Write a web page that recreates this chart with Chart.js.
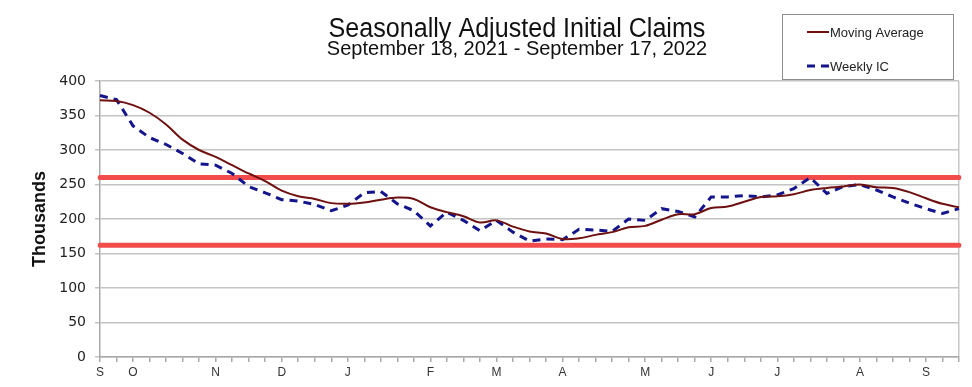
<!DOCTYPE html>
<html>
<head>
<meta charset="utf-8">
<script src="https://cdn.jsdelivr.net/npm/chart.js@4.4.1/dist/chart.umd.min.js"></script>
<style>
    html, body { margin: 0; padding: 0; background: #fff; }
    #wrap { position: relative; width: 972px; height: 387px; }
</style>
</head>
<body>
<div id="wrap"><canvas id="chartCanvas" width="972" height="387"></canvas></div>
<script>
var titleText = 'Seasonally Adjusted Initial Claims';
var subtitleText = 'September 18, 2021 - September 17, 2022';

// week ending dates (Saturdays)
var weekEnding = [
    '2021-09-18', '2021-09-25', '2021-10-02', '2021-10-09', '2021-10-16', '2021-10-23', '2021-10-30',
    '2021-11-06', '2021-11-13', '2021-11-20', '2021-11-27', '2021-12-04', '2021-12-11', '2021-12-18',
    '2021-12-25', '2022-01-01', '2022-01-08', '2022-01-15', '2022-01-22', '2022-01-29', '2022-02-05',
    '2022-02-12', '2022-02-19', '2022-02-26', '2022-03-05', '2022-03-12', '2022-03-19', '2022-03-26',
    '2022-04-02', '2022-04-09', '2022-04-16', '2022-04-23', '2022-04-30', '2022-05-07', '2022-05-14',
    '2022-05-21', '2022-05-28', '2022-06-04', '2022-06-11', '2022-06-18', '2022-06-25', '2022-07-02',
    '2022-07-09', '2022-07-16', '2022-07-23', '2022-07-30', '2022-08-06', '2022-08-13', '2022-08-20',
    '2022-08-27', '2022-09-03', '2022-09-10', '2022-09-17'
];
var monthLetters = ['J', 'F', 'M', 'A', 'M', 'J', 'J', 'A', 'S', 'O', 'N', 'D'];

// thousands
var movingAvg = [
    372, 371, 365, 354, 337, 315, 300, 290, 278, 266, 255, 241, 233, 229,
    223, 222, 224, 228, 231, 229, 217, 210, 204, 195, 198, 189, 182, 179,
    171, 172, 177, 181, 188, 190, 199, 207, 207, 216, 218, 225, 232, 233,
    236, 242, 245, 247, 250, 246, 245, 239, 230, 222, 217
];
var weeklyIC = [
    379, 373, 335, 318, 308, 295, 280, 278, 266, 247, 238, 228, 226, 221,
    212, 220, 238, 240, 222, 212, 190, 210, 198, 183, 198, 181, 168, 171,
    170, 185, 184, 182, 200, 198, 215, 211, 203, 232, 232, 234, 232, 235,
    244, 260, 237, 247, 250, 242, 232, 223, 215, 208, 215
];
var upperBand = 260;
var lowerBand = 162;
var yTicks = { min: 0, max: 400, step: 50 };

var upperLine = weekEnding.map(function () { return upperBand; });
var lowerLine = weekEnding.map(function () { return lowerBand; });

// centred text, squeezed sideways a little (no Arial Narrow installed)
function narrowText(c, text, x, y, size, squeeze) {
    c.save();
    c.font = size + 'px "Liberation Sans", Arial, sans-serif';
    c.translate(x, y);
    c.scale(squeeze, 1);
    c.textAlign = 'center';
    c.fillText(text, 0, 0);
    c.restore();
}

var headerPlugin = {
    id: 'header',
    afterDraw: function (chart) {
        var c = chart.ctx;
        c.save();
        c.fillStyle = '#111';
        c.textBaseline = 'alphabetic';
        narrowText(c, titleText, 517, 37, 27, 0.93);
        narrowText(c, subtitleText, 517, 55, 20, 1.0);

        // legend box
        c.strokeStyle = '#8c8c8c';
        c.lineWidth = 1;
        c.strokeRect(782.5, 14.5, 171, 65);
        var items = chart.data.datasets.slice(0, 2);
        var ys = [32, 66];
        c.textAlign = 'left';
        c.textBaseline = 'middle';
        c.font = '13px "Liberation Sans", Arial, sans-serif';
        items.forEach(function (ds, i) {
            c.beginPath();
            c.strokeStyle = ds.borderColor;
            c.lineWidth = ds.borderWidth;
            c.setLineDash(ds.borderDash || []);
            c.moveTo(807, ys[i]);
            c.lineTo(829, ys[i]);
            c.stroke();
            c.setLineDash([]);
            c.fillStyle = '#222';
            c.fillText(ds.label, 830, ys[i] + 1);
        });
        c.restore();
    }
};

var ctx = document.getElementById('chartCanvas').getContext('2d');
var myChart = new Chart(ctx, {
    type: 'line',
    data: {
        labels: weekEnding,
        datasets: [{
            label: 'Moving Average',
            data: movingAvg,
            borderColor: '#6e1010',
            borderWidth: 2,
            pointRadius: 0,
            tension: 0.35
        }, {
            label: 'Weekly IC',
            data: weeklyIC,
            borderColor: '#14148c',
            borderWidth: 3,
            borderDash: [8, 6],
            pointRadius: 0,
            tension: 0
        }, {
            label: 'Upper',
            data: upperLine,
            borderColor: '#f24b4b',
            borderWidth: 5,
            borderCapStyle: 'round',
            pointRadius: 0
        }, {
            label: 'Lower',
            data: lowerLine,
            borderColor: '#f24b4b',
            borderWidth: 5,
            borderCapStyle: 'round',
            pointRadius: 0
        }]
    },
    options: {
        responsive: false,
        animation: false,
        layout: {
            padding: { top: 81, right: 13, left: 0, bottom: 0 }
        },
        plugins: {
            legend: { display: false },
            tooltip: { enabled: false }
        },
        scales: {
            x: {
                ticks: {
                    autoSkip: false,
                    maxRotation: 0,
                    padding: 3,
                    color: '#333',
                    font: { family: '"Liberation Sans", Arial, sans-serif', size: 12 },
                    callback: function (value, index) {
                        var d = weekEnding[index];
                        var day = parseInt(d.slice(8, 10), 10);
                        return day <= 7 || index === 0 ? monthLetters[parseInt(d.slice(5, 7), 10) - 1] : '';
                    }
                },
                grid: {
                    drawOnChartArea: true,
                    tickLength: 5,
                    tickColor: '#aaa',
                    color: function (c) {
                        return c.index === weekEnding.length - 1 ? '#c8c8c8' : 'rgba(0,0,0,0)';
                    },
                    lineWidth: 1.5
                },
                border: { color: '#aaa', width: 1.5 },
                afterFit: function (scale) { scale.height = 30; }
            },
            y: {
                min: yTicks.min,
                max: yTicks.max,
                ticks: {
                    stepSize: yTicks.step,
                    padding: 9,
                    color: '#222',
                    font: { family: '"DejaVu Sans", sans-serif', size: 14 }
                },
                grid: {
                    color: '#c4c4c4',
                    lineWidth: 1.5,
                    tickLength: 5
                },
                border: { color: '#aaa', width: 1.5 },
                title: {
                    display: true,
                    text: 'Thousands',
                    color: '#111',
                    font: { family: '"Liberation Sans", Arial, sans-serif', size: 18, weight: 'bold' },
                    padding: { top: 29, bottom: 0 }
                },
                afterFit: function (scale) { scale.width = 100; }
            }
        }
    },
    plugins: [headerPlugin]
});
</script>
</body>
</html>
